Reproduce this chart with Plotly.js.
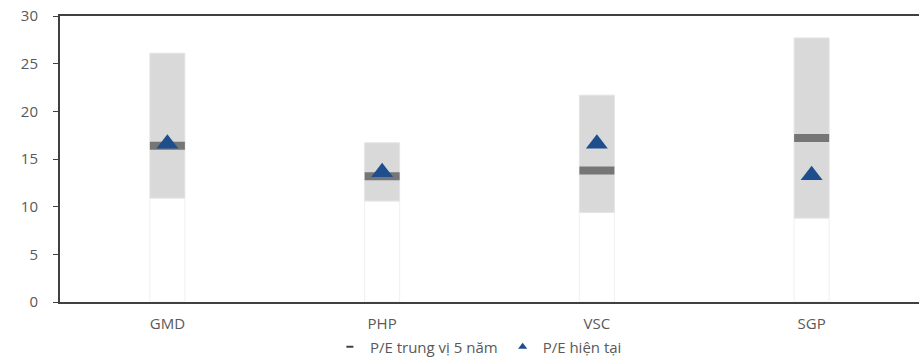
<!DOCTYPE html>
<html><head><meta charset="utf-8">
<script src="https://cdn.plot.ly/plotly-3.0.1.min.js"></script>
<style>body{margin:0}#c{width:920px;height:359px}</style>
</head><body><div id="c"></div>
<script>
const categories = ["GMD", "PHP", "VSC", "SGP"];
const peMin = [10.9, 10.6, 9.4, 8.8];
const peMax = [26.1, 16.7, 21.7, 27.7];
const peMedian = [16.4, 13.2, 13.8, 17.2];
const peCurrent = [16.6, 13.6, 16.6, 13.3];
const tickVals = [0, 5, 10, 15, 20, 25, 30];
const legendNames = ["P/E trung vị 5 năm", "P/E hiện tại"];

const range = peMax.map((v, i) => v - peMin[i]);

const traces = [
  {type: "bar", x: categories, y: peMin, width: 0.163, marker: {color: "#ffffff", line: {color: "#f0f0f0", width: 1}}, showlegend: false, hoverinfo: "skip"},
  {type: "bar", x: categories, y: range, base: peMin, width: 0.163, marker: {color: "#d9d9d9", line: {color: "#e4e4e4", width: 1}}, showlegend: false, hoverinfo: "skip"},
  {type: "scatter", mode: "markers", x: categories, y: peMedian, showlegend: false,
   marker: {symbol: "line-ew-open", size: 25, color: "#767676", line: {color: "#767676", width: 8}}},
  {type: "scatter", mode: "markers", x: categories, y: peCurrent, showlegend: false,
   marker: {symbol: "triangle-up", size: 19, color: "#1f4e8c"}},
  {type: "scatter", mode: "markers", x: [null], y: [null], name: legendNames[0],
   marker: {symbol: "line-ew-open", size: 5, color: "#404040", line: {color: "#404040", width: 2}}},
  {type: "scatter", mode: "markers", x: [null], y: [null], name: legendNames[1],
   marker: {symbol: "triangle-up", size: 8, color: "#1f4e8c"}}
];

const layout = {
  width: 920, height: 359,
  margin: {l: 60, r: 1, t: 16, b: 57},
  paper_bgcolor: "#fff", plot_bgcolor: "#fff",
  barmode: "overlay",
  font: {family: "'Open Sans', sans-serif", size: 15, color: "#595959"},
  xaxis: {showline: true, linecolor: "#404040", linewidth: 2, mirror: true, ticks: "", showgrid: false, tickfont: {size: 15, color: "#595959"}, ticklabelstandoff: 7},
  yaxis: {range: [0, 30], tickvals: tickVals, showgrid: false, zeroline: false, showline: true, linecolor: "#404040", linewidth: 2,
          ticks: "outside", ticklen: 5, tickcolor: "#404040", tickfont: {size: 15, color: "#595959"}, ticklabelstandoff: 12},
  legend: {orientation: "h", x: 0.52, xanchor: "center", xref: "container", y: 12 / 359, yref: "container", yanchor: "middle",
           font: {size: 15, color: "#595959"}, itemsizing: "trace", itemwidth: 30, tracegroupgap: 0},
  showlegend: true
};

Plotly.newPlot("c", traces, layout, {displayModeBar: false, staticPlot: true});
</script></body></html>
